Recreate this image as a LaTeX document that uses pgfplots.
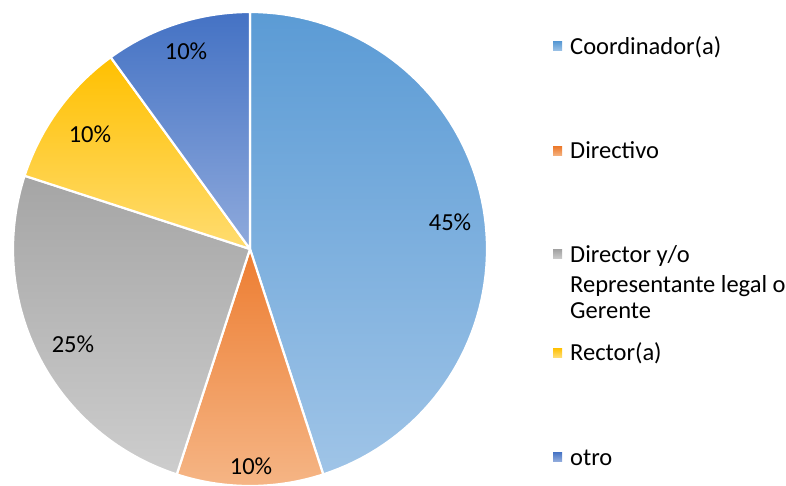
\documentclass[border=0pt]{standalone}
\usepackage{pgfplots}
\pgfplotsset{compat=1.18}
\usepackage{fontspec}
\setmainfont{Carlito}
\definecolor{cA1}{HTML}{5B9BD5}\definecolor{cA2}{HTML}{9FC4E7}
\definecolor{cB1}{HTML}{ED7D31}\definecolor{cB2}{HTML}{F5B585}
\definecolor{cC1}{HTML}{A5A5A5}\definecolor{cC2}{HTML}{CDCDCD}
\definecolor{cD1}{HTML}{FFC000}\definecolor{cD2}{HTML}{FFDC70}
\definecolor{cE1}{HTML}{4472C4}\definecolor{cE2}{HTML}{8FAADC}
% slice values (percent)
\def\pA{45}\def\pB{10}\def\pC{25}\def\pD{10}\def\pE{10}
\pgfmathsetmacro{\aZ}{90}
\pgfmathsetmacro{\aA}{\aZ-3.6*\pA}
\pgfmathsetmacro{\aB}{\aA-3.6*\pB}
\pgfmathsetmacro{\aC}{\aB-3.6*\pC}
\pgfmathsetmacro{\aD}{\aC-3.6*\pD}
\pgfmathsetmacro{\aE}{\aD-3.6*\pE}
\def\cx{250}\def\cy{236}\def\rr{237}
\begin{document}
\begin{tikzpicture}
\begin{axis}[
  scale only axis, width=786pt, height=485pt,
  xmin=0, xmax=786, ymin=0, ymax=485,
  hide axis, clip=true,
]
\pgfplotsset{slice/.style={draw=white, line width=2.2pt, line join=round, samples=80, variable=\t}}
\addplot[slice, top color=cA1, bottom color=cA2, domain=\aA:\aZ] ({\cx+\rr*cos(t)},{\cy+\rr*sin(t)}) -- (axis cs:\cx,\cy) -- cycle;
\addplot[slice, top color=cB1, bottom color=cB2, domain=\aB:\aA] ({\cx+\rr*cos(t)},{\cy+\rr*sin(t)}) -- (axis cs:\cx,\cy) -- cycle;
\addplot[slice, top color=cC1, bottom color=cC2, domain=\aC:\aB] ({\cx+\rr*cos(t)},{\cy+\rr*sin(t)}) -- (axis cs:\cx,\cy) -- cycle;
\addplot[slice, top color=cD1, bottom color=cD2, domain=\aD:\aC] ({\cx+\rr*cos(t)},{\cy+\rr*sin(t)}) -- (axis cs:\cx,\cy) -- cycle;
\addplot[slice, top color=cE1, bottom color=cE2, domain=\aE:\aD] ({\cx+\rr*cos(t)},{\cy+\rr*sin(t)}) -- (axis cs:\cx,\cy) -- cycle;
% data labels
\begin{scope}[every node/.style={font=\fontsize{24.5}{29}\selectfont, inner sep=0pt}]
\node at (axis cs:450,263) {45\%};
\node at (axis cs:251,19) {10\%};
\node at (axis cs:73,141) {25\%};
\node at (axis cs:90,351) {10\%};
\node at (axis cs:186,434) {10\%};
% legend
\fill[top color=cA1, bottom color=cA2] (axis cs:553,434) rectangle (axis cs:562,443);
\node[anchor=base west] at (axis cs:570,430) {Coordinador(a)};
\fill[top color=cB1, bottom color=cB2] (axis cs:553,329) rectangle (axis cs:562,338);
\node[anchor=base west] at (axis cs:570,326) {Directivo};
\fill[top color=cC1, bottom color=cC2] (axis cs:553,226) rectangle (axis cs:562,235);
\node[anchor=base west] at (axis cs:570,223) {Director y/o};
\node[anchor=base west] at (axis cs:570,192) {Representante legal o};
\node[anchor=base west] at (axis cs:570,167) {Gerente};
\fill[top color=cD1, bottom color=cD2] (axis cs:553,128) rectangle (axis cs:562,137);
\node[anchor=base west] at (axis cs:570,125) {Rector(a)};
\fill[top color=cE1, bottom color=cE2] (axis cs:553,24) rectangle (axis cs:562,33);
\node[anchor=base west] at (axis cs:570,20) {otro};
\end{scope}
\end{axis}
\pgfresetboundingbox
\path (0,0) rectangle (786pt,485pt);
\end{tikzpicture}
\end{document}
